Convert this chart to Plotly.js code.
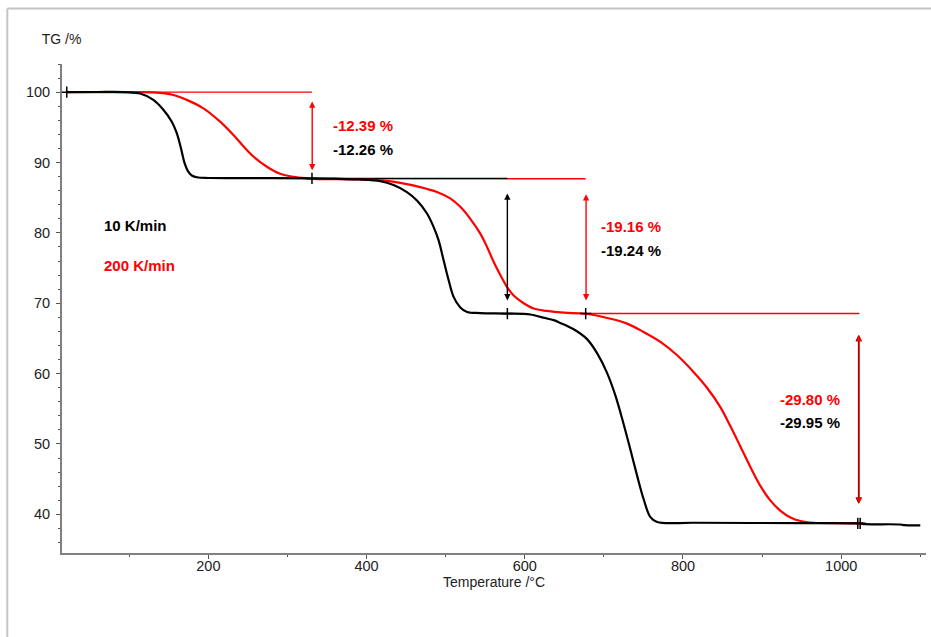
<!DOCTYPE html>
<html>
<head>
<meta charset="utf-8">
<script src="https://cdn.plot.ly/plotly-3.0.1.min.js"></script>
<style>html,body{margin:0;padding:0;background:#fff;}#chart{width:931px;height:637px;}</style>
</head>
<body>
<div id="chart"></div>
<script>
// ---- data ----
const blackT = [20,60,95,113.7,130.5,143.1,153.8,160,165,170,174,179,187,200,280,331,360,390,417.3,434.1,451,463.7,476.4,484.7,491,497.4,503.7,510,518.5,527,543.8,577.6,607,619.7,636.5,645,661.8,678.7,691.4,704,714.5,725,733.5,742,750.4,758.8,767.3,813.6,950,1023,1030,1075,1080,1100];
const blackV = [100,100.02,100,99.8,98.9,97.5,95.8,94.2,92.2,89.9,88.8,88.15,87.87,87.8,87.78,87.75,87.7,87.6,87.35,86.8,85.8,84.6,82.75,80.85,78.96,76.1,73.3,70.9,69.4,68.76,68.6,68.53,68.4,68.05,67.6,67.2,66.3,64.9,62.9,60.1,56.9,52.8,49.2,45.5,42.1,39.6,38.9,38.8,38.75,38.7,38.6,38.55,38.45,38.42];
const redT = [20,100,130.5,155.8,172.7,193.8,214.9,231.7,244.4,257,274,290.8,307.6,324.6,340,380,417.3,442.6,467.9,489,505.8,518.5,531.1,543.8,552.3,560.6,569.1,577.6,585.9,598.6,611.2,628.2,649.2,677,708.2,729.3,750.4,771.5,792.6,813.6,830.6,847.4,860,872.7,885.3,898,910.6,923.3,935.9,948.6,965.4,1000,1024];
const redV = [100,100,99.96,99.6,98.9,97.7,95.8,93.9,92.3,90.85,89.4,88.4,87.96,87.75,87.65,87.6,87.5,87.1,86.5,85.8,84.9,83.7,82.0,79.9,78.0,75.9,74.0,72.3,71.1,70.0,69.25,68.9,68.65,68.5,67.8,67.1,65.9,64.5,62.6,60.2,57.95,55.2,52.5,49.6,46.7,44.0,41.95,40.5,39.55,39.05,38.8,38.75,38.72];

// step evaluation lines
const redStepT0 = [21, 331, 677];
const redStepT1 = [331, 677, 1023];
const redStepV  = [100, 87.7, 68.53];
const blackStepT0 = [331];
const blackStepT1 = [578];
const blackStepV  = [87.74];

// evaluation markers
const markT = [21, 331, 578, 677, 1021, 1024];
const markV = [100, 87.74, 68.53, 68.53, 38.72, 38.72];

// step losses (labels)
const redLoss   = ['-12.39 %', '-19.16 %', '-29.80 %'];
const blackLoss = ['-12.26 %', '-19.24 %', '-29.95 %'];
const seriesNames = ['10 K/min', '200 K/min'];

// ---- build ----
const FONT = 'Arial, "Liberation Sans", sans-serif';
const traces = [];
for (let i = 0; i < redStepT0.length; i++) {
  traces.push({x:[redStepT0[i], redStepT1[i]], y:[redStepV[i], redStepV[i]], mode:'lines',
    line:{color:'#ff0000', width:1.4}, hoverinfo:'skip'});
}
for (let i = 0; i < blackStepT0.length; i++) {
  traces.push({x:[blackStepT0[i], blackStepT1[i]], y:[blackStepV[i], blackStepV[i]], mode:'lines',
    line:{color:'#000000', width:1.4}, hoverinfo:'skip'});
}
traces.push({x:redT, y:redV, mode:'lines', name:seriesNames[1],
  line:{color:'#ff0000', width:2.2, shape:'spline', smoothing:1}});
traces.push({x:blackT, y:blackV, mode:'lines', name:seriesNames[0],
  line:{color:'#000000', width:2.2, shape:'spline', smoothing:1}});
traces.push({x:markT, y:markV, mode:'markers',
  marker:{symbol:'cross-thin', size:8, color:'#000', line:{color:'#000', width:1.5}}});

function arrow(x, y0, y1, color) {
  return {x:x, y:y1, ax:x, ay:y0, xref:'x', yref:'y', axref:'x', ayref:'y', text:'',
    showarrow:true, arrowhead:2, startarrowhead:2, arrowside:'end+start',
    arrowsize:0.9, startarrowsize:0.9, arrowwidth:1.4, arrowcolor:color, standoff:0, startstandoff:0};
}
function label(x, y, txt, color) {
  return {x:x, y:y, xref:'x', yref:'y', text:txt, showarrow:false, xanchor:'left', yanchor:'middle',
    font:{family:FONT, size:15, color:color, weight:'bold'}};
}
const annotations = [
  arrow(331.3, 98.9, 88.9, '#ff0000'),
  arrow(578, 85.8, 70.4, '#000000'),
  arrow(677.5, 85.7, 70.4, '#ff0000'),
  arrow(1022, 65.7, 41.5, '#000000'),
  arrow(1022.6, 65.7, 41.5, '#ff0000'),
  label(354.5, 95.3, redLoss[0], '#ff0000'),
  label(354.5, 91.9, blackLoss[0], '#000000'),
  label(694, 80.85, redLoss[1], '#ff0000'),
  label(694, 77.45, blackLoss[1], '#000000'),
  label(920.5, 56.35, redLoss[2], '#ff0000'),
  label(920.5, 52.98, blackLoss[2], '#000000'),
  label(65, 81.1, seriesNames[0], '#000000'),
  label(65, 75.4, seriesNames[1], '#ff0000')
];

const layout = {
  width:931, height:637,
  margin:{l:62, r:5.4, t:64, b:84.3, pad:0},
  paper_bgcolor:'#ffffff', plot_bgcolor:'#ffffff',
  showlegend:false,
  font:{family:FONT, size:14, color:'#222'},
  title:{text:'TG /%', xref:'container', yref:'container', x:41.7/931, xanchor:'left',
    y:1-39/637, yanchor:'middle', font:{family:FONT, size:14, color:'#222'}},
  xaxis:{range:[15,1107.2], showgrid:false, zeroline:false, showline:true, linecolor:'#808080', linewidth:2,
    tickmode:'array', tickvals:[200,400,600,800,1000], ticks:'outside', ticklen:4, tickcolor:'#555', tickwidth:1,
    minor:{tickvals:[100,300,500,700,900,1100], ticks:'outside', ticklen:2, tickcolor:'#555'},
    tickfont:{family:FONT, size:14.5, color:'#222'}, ticklabelstandoff:-5,
    title:{text:'Temperature /°C', font:{family:FONT, size:14, color:'#222'}, standoff:2}},
  yaxis:{range:[34.5,104], showgrid:false, zeroline:false, showline:true, linecolor:'#808080', linewidth:2,
    tickmode:'array', tickvals:[40,50,60,70,80,90,100], ticks:'outside', ticklen:4, tickcolor:'#555', tickwidth:1,
    minor:{dtick:2, tick0:0, ticks:'outside', ticklen:2, tickcolor:'#555'},
    tickfont:{family:FONT, size:14.5, color:'#222'}, ticklabelstandoff:3},
  annotations:annotations,
  shapes:[
    {type:'line', xref:'paper', yref:'paper', x0:-0.0633, x1:1.01, y0:1.1136, y1:1.1136, line:{color:'#c4c4c4', width:2}},
    {type:'line', xref:'paper', yref:'paper', x0:-0.0633, x1:-0.0633, y0:1.1136, y1:-0.2, line:{color:'#c4c4c4', width:2}}
  ]
};
Plotly.newPlot('chart', traces, layout, {staticPlot:true, displayModeBar:false});
</script>
</body>
</html>
